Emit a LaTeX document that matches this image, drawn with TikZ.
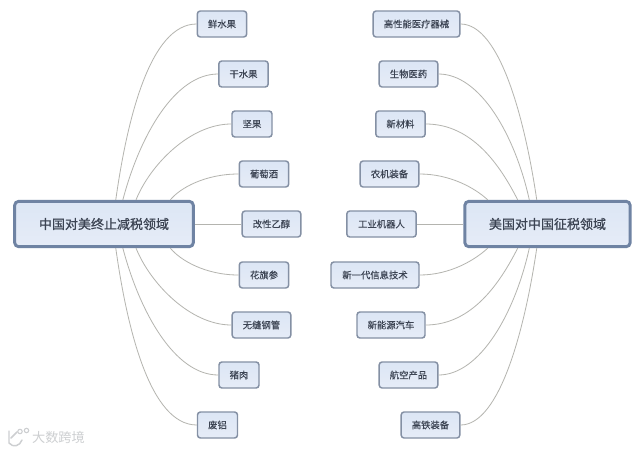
\documentclass[tikz,border=0pt]{standalone}
\usepackage{fontspec}
\setmainfont{Noto Sans CJK SC}
\newfontfamily\hubfont[FakeBold=0.8]{Noto Sans CJK SC}
\newfontfamily\leaffont[FakeBold=0.25]{Noto Sans CJK SC}
\definecolor{textc}{HTML}{3C4453}
\definecolor{linkc}{HTML}{B4B4AF}
\definecolor{leafedge}{HTML}{8490A4}
\definecolor{mainedge}{HTML}{6F83A3}
\definecolor{fillt}{HTML}{DCE6F5}
\definecolor{fillb}{HTML}{E6ECF7}
\definecolor{markc}{HTML}{CDCFD1}
\tikzset{
  leaf/.style={draw=leafedge,line width=1.1pt,rounded corners=2.2pt,top color=fillt,bottom color=fillb,
    text=textc,font=\leaffont\fontsize{7}{8}\selectfont,inner sep=0pt,minimum height=19.5pt},
  hub/.style={draw=mainedge,line width=2.2pt,rounded corners=3pt,top color=fillt,bottom color=fillb,
    text=textc,font=\hubfont\fontsize{9.75}{11}\selectfont,inner sep=0pt,minimum height=34pt},
  link/.style={draw=linkc,line width=0.6pt}
}
\begin{document}
\begin{tikzpicture}[x=0.75pt,y=-0.75pt]
\useasboundingbox (0,0) rectangle (640,451);
\fill[white] (0,0) rectangle (640,451);
\node[hub,minimum width=134pt] (L) at (104,224) {中国对美终止减税领域};
\node[hub,minimum width=124pt] (R) at (547.5,224) {美国对中国征税领域};
\node[leaf,minimum width=37pt] (a1) at (222,24) {鲜水果};
\node[leaf,minimum width=37pt] (a2) at (243.5,74) {干水果};
\node[leaf,minimum width=30pt] (a3) at (252,124) {坚果};
\node[leaf,minimum width=37pt] (a4) at (264,174) {葡萄酒};
\node[leaf,minimum width=44pt] (a5) at (271.5,224) {改性乙醇};
\node[leaf,minimum width=37pt] (a6) at (264,275) {花旗参};
\node[leaf,minimum width=44pt] (a7) at (261.5,325) {无缝钢管};
\node[leaf,minimum width=30pt] (a8) at (239,375) {猪肉};
\node[leaf,minimum width=30pt] (a9) at (217.5,425) {废铝};
\node[leaf,minimum width=65pt] (b1) at (416.5,24) {高性能医疗器械};
\node[leaf,minimum width=44pt] (b2) at (408.5,74) {生物医药};
\node[leaf,minimum width=37pt] (b3) at (400.5,124) {新材料};
\node[leaf,minimum width=44pt] (b4) at (389.5,174) {农机装备};
\node[leaf,minimum width=52pt] (b5) at (381.5,224) {工业机器人};
\node[leaf,minimum width=66pt] (b6) at (375,275) {新一代信息技术};
\node[leaf,minimum width=51pt] (b7) at (391,325) {新能源汽车};
\node[leaf,minimum width=44pt] (b8) at (408.5,375) {航空产品};
\node[leaf,minimum width=44pt] (b9) at (430.5,425) {高铁装备};
\draw[link] (L.64) .. controls (127,120) and (150,24) .. (a1.west);
\draw[link] (L.52) .. controls (140,135) and (175,74) .. (a2.west);
\draw[link] (L.37.5) .. controls (150,165) and (190,124) .. (a3.west);
\draw[link] (L.20) .. controls (180,188) and (205,174) .. (a4.west);
\draw[link] (L.east) -- (a5.west);
\draw[link] (L.-20) .. controls (180,260) and (205,275) .. (a6.west);
\draw[link] (L.-37.5) .. controls (150,283) and (190,325) .. (a7.west);
\draw[link] (L.-52) .. controls (140,313) and (175,375) .. (a8.west);
\draw[link] (L.-64) .. controls (127,328) and (150,425) .. (a9.west);
\draw[link] (b1.east) .. controls (500,24) and (525,120) .. (R.114.5);
\draw[link] (b2.east) .. controls (480,74) and (515,135) .. (R.127.3);
\draw[link] (b3.east) .. controls (472,124) and (500,165) .. (R.141.1);
\draw[link] (b4.east) .. controls (450,174) and (475,188) .. (R.158.9);
\draw[link] (b5.east) -- (R.west);
\draw[link] (b6.east) .. controls (450,275) and (475,260) .. (R.-158.9);
\draw[link] (b7.east) .. controls (472,325) and (500,283) .. (R.-141.1);
\draw[link] (b8.east) .. controls (480,375) and (515,313) .. (R.-127.3);
\draw[link] (b9.east) .. controls (500,425) and (525,328) .. (R.-114.5);
\node[text=markc,font=\fontsize{9.9}{11}\selectfont,inner sep=0pt] (wm) at (58.5,437.5) {大数跨境};
\draw[markc,line width=1.1pt,line cap=round] (9,431) -- (9,443) .. controls (13,448) and (20,446) .. (22,440);
\draw[markc,line width=1.1pt,line cap=round] (11,438) -- (17,432);
\draw[markc,line width=0.8pt] (20,431.5) circle (2.2);
\draw[markc,line width=0.8pt] (26.5,430.5) circle (2.2);
\end{tikzpicture}
\end{document}
